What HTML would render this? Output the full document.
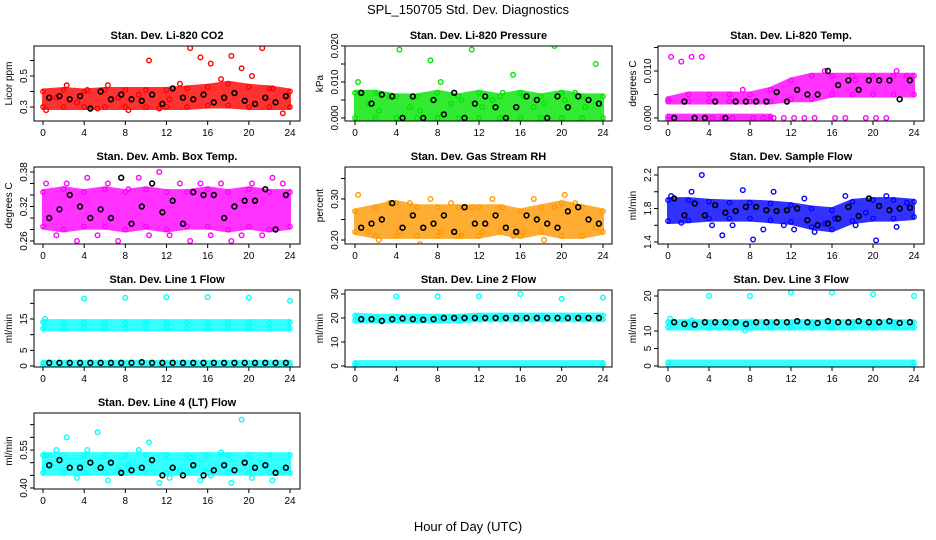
<!DOCTYPE html>
<html><head><meta charset="utf-8"><style>
html,body{margin:0;padding:0;background:#fff;}
svg{display:block;font-family:"Liberation Sans",Arial,sans-serif;}
</style></head><body>
<svg id="chart" width="936" height="540" viewBox="0 0 936 540">
<rect x="0" y="0" width="936" height="540" fill="#fff"/>
<text x="468" y="14" text-anchor="middle" font-size="13">SPL_150705  Std. Dev. Diagnostics</text>
<text x="468" y="531" text-anchor="middle" font-size="13">Hour of Day (UTC)</text>
</svg>
<script>
// shared hour arrays
const bandHours = [0,2,4,6,8,10,12,14,16,18,20,22,24];
const blkHours = [0.6,1.6,2.6,3.6,4.6,5.6,6.6,7.6,8.6,9.6,10.6,11.6,12.6,13.6,14.6,15.6,16.6,17.6,18.6,19.6,20.6,21.6,22.6,23.6];
const colHours = [0.3,1.3,2.3,3.3,4.3,5.3,6.3,7.3,8.3,9.3,10.3,11.3,12.3,13.3,14.3,15.3,16.3,17.3,18.3,19.3,20.3,21.3,22.3,23.3];
const xTicks = [0,4,8,12,16,20,24];

// P1 CO2
const co2Lo = [0.30,0.30,0.30,0.30,0.30,0.30,0.30,0.30,0.31,0.31,0.30,0.30,0.30];
const co2Hi = [0.40,0.41,0.40,0.41,0.41,0.41,0.41,0.42,0.43,0.45,0.43,0.42,0.40];
const co2Col = [0.28,0.36,0.44,0.33,0.41,0.29,0.44,0.36,0.28,0.38,0.60,0.29,0.35,0.45,0.68,0.62,0.58,0.48,0.63,0.55,0.50,0.68,0.42,0.26];
const co2Blk = [0.36,0.37,0.35,0.37,0.29,0.40,0.35,0.38,0.35,0.34,0.38,0.32,0.42,0.36,0.35,0.38,0.33,0.36,0.39,0.34,0.32,0.36,0.33,0.37];
// P2 Pressure
const presLo = [0,0,0,0,0,0,0,0,0,0,0,0,0];
const presHi = [0.007,0.007,0.006,0.006,0.007,0.006,0.007,0.006,0.007,0.006,0.007,0.006,0.006];
const presCol = [0.010,0.004,0.002,0.006,0.019,0.003,0.002,0.016,0.010,0.004,0.005,0.019,0.003,0.005,0.007,0.012,0.006,0.003,0.004,0.020,0.005,0.007,0.003,0.015];
const presBlk = [0.007,0.004,0.0065,0.006,0.000,0.006,0.000,0.005,0.001,0.007,0.000,0.004,0.006,0.003,0.000,0.003,0.006,0.005,0.000,0.006,0.003,0.006,0.005,0.004];
// P3 Li-820 Temp
const ltLo = [0.0035,0.0035,0.0035,0.0035,0.0035,0.0035,0.004,0.004,0.005,0.005,0.005,0.005,0.005];
const ltHi = [0.004,0.005,0.005,0.005,0.005,0.006,0.008,0.009,0.009,0.009,0.009,0.009,0.009];
const ltZeroHours = [0,10];
const ltZeroLo = [-0.0003,-0.0003];
const ltZeroHi = [0.0003,0.0003];
const ltCol = [0.013,0.012,0.013,0.013,0.000,0.000,0.000,0.006,0.000,0.000,0.000,0.000,0.000,0.000,0.000,0.010,0.000,0.000,0.008,0.000,0.000,0.000,0.010,0.009];
const ltBlk = [0.000,0.0035,0.000,0.000,0.0035,0.000,0.0035,0.0035,0.0035,0.0035,0.0055,0.0035,0.006,0.005,0.005,0.010,0.007,0.008,0.006,0.008,0.008,0.008,0.004,0.008];
// P4 Amb box temp
const abLo = [0.285,0.28,0.285,0.285,0.28,0.285,0.28,0.285,0.285,0.28,0.285,0.28,0.285];
const abHi = [0.345,0.35,0.345,0.35,0.345,0.35,0.345,0.345,0.35,0.345,0.35,0.345,0.345];
const abCol = [0.36,0.27,0.36,0.26,0.37,0.27,0.36,0.26,0.35,0.37,0.27,0.38,0.27,0.36,0.26,0.36,0.27,0.36,0.26,0.27,0.36,0.27,0.37,0.36];
const abBlk = [0.30,0.315,0.34,0.32,0.30,0.315,0.30,0.37,0.29,0.32,0.36,0.31,0.33,0.29,0.345,0.34,0.34,0.30,0.32,0.33,0.33,0.35,0.28,0.34];
// P5 RH
const rhLo = [0.22,0.21,0.21,0.21,0.21,0.21,0.21,0.22,0.21,0.22,0.21,0.21,0.22];
const rhHi = [0.27,0.28,0.29,0.28,0.28,0.28,0.28,0.28,0.27,0.28,0.29,0.28,0.27];
const rhCol = [0.31,0.22,0.20,0.29,0.22,0.29,0.19,0.30,0.22,0.29,0.21,0.28,0.22,0.30,0.28,0.21,0.22,0.30,0.20,0.28,0.31,0.29,0.39,0.23];
const rhBlk = [0.23,0.24,0.25,0.29,0.23,0.26,0.23,0.24,0.26,0.22,0.28,0.24,0.24,0.26,0.23,0.22,0.26,0.25,0.24,0.23,0.27,0.28,0.25,0.24];
// P6 Sample flow
const sfLo = [1.65,1.66,1.68,1.68,1.68,1.66,1.64,1.58,1.55,1.65,1.68,1.68,1.70];
const sfHi = [1.90,1.90,1.88,1.87,1.87,1.86,1.84,1.80,1.78,1.88,1.90,1.90,1.88];
const sfCol = [1.95,1.63,2.0,2.2,1.6,1.48,1.6,2.02,1.43,1.55,2.0,1.6,1.55,1.92,1.52,1.62,1.68,1.95,1.6,1.75,1.42,1.95,1.58,1.87];
const sfBlk = [1.92,1.72,1.86,1.72,1.84,1.75,1.77,1.82,1.82,1.78,1.77,1.78,1.80,1.66,1.60,1.62,1.68,1.82,1.71,1.92,1.83,1.78,1.80,1.81];
// P7 Line 1
const l1Lo = [12,12,12,12,12,12,12,12,12,12,12,12,12];
const l1Hi = [14,14,14,14,14,14,14,14,14,14,14,14,14];
const zeroRowHours = [0,24];
const l1ZeroLo = [0,0];
const l1ZeroHi = [1,1];
const l1OutHours = [0.2,4,8,12,16,20,24];
const l1Out = [15,21.5,21.8,22,22,21.8,20.8];
const l1Blk = [1,1,1,1,1,1,1,1,1,1.2,1,1,1,1,1,1,1,1,1,1,1,1,1,1];
// P8 Line 2
const l2Lo = [19,19,19,19,19,19,19.5,19.5,19.5,19.5,19.5,19.5,19.5];
const l2Hi = [21,20.5,20.5,20.5,20.5,20.5,21,21,21,21,21,21,21];
const l2ZeroLo = [0,0];
const l2ZeroHi = [1.2,1.2];
const l2OutHours = [4,8,12,16,20,24];
const l2Out = [29,29,29,30,28,28.5];
const l2Blk = [19.5,19.5,18.8,19.5,19.8,19.5,19.3,19.5,20,20,20,20,20,20,20,20,20,20,20,20,20,20,20,20];
// P9 Line 3
const l3Lo = [11,11,11,11,11,11,11,11,11,11,11,11,11];
const l3Hi = [12.5,12.5,12.5,12.5,12.5,12.5,12.5,12.5,12.5,12.5,12.5,12.5,12.5];
const l3ZeroLo = [0,0];
const l3ZeroHi = [1,1];
const l3OutHours = [0.2,2.3,4,7.5,8,12,16,20,24];
const l3Out = [13.5,13,20,10.2,20,21,21,20.5,20];
const l3Blk = [12.5,12,11.8,12.5,12.5,12.5,12.5,12,12.5,12.5,12.5,12.5,12.8,12.5,12.3,12.8,12.5,12.5,12.8,12.5,12.5,12.8,12.3,12.5];
// P10 Line 4
const l4Lo = [0.46,0.46,0.46,0.46,0.46,0.46,0.46,0.46,0.46,0.46,0.46,0.46,0.46];
const l4Hi = [0.53,0.53,0.53,0.53,0.53,0.53,0.53,0.53,0.53,0.53,0.53,0.53,0.53];
const l4Col = [0.53,0.55,0.60,0.44,0.55,0.62,0.43,0.47,0.49,0.55,0.58,0.42,0.44,0.47,0.52,0.43,0.45,0.54,0.42,0.67,0.44,0.50,0.43,0.47];
const l4Blk = [0.49,0.51,0.48,0.48,0.50,0.48,0.50,0.46,0.47,0.48,0.51,0.45,0.48,0.45,0.49,0.45,0.47,0.49,0.47,0.50,0.48,0.49,0.46,0.48];

const NS = 'http://www.w3.org/2000/svg';
const svg = document.getElementById('chart');
function mk(tag, attrs, parent){
  const e = document.createElementNS(NS, tag);
  for (const k in attrs) e.setAttribute(k, attrs[k]);
  (parent||svg).appendChild(e);
  return e;
}
const cols = [{bx0:34,bx1:300,h0:43,h24:290},{bx0:345,bx1:612,h0:355,h24:603},{bx0:658,bx1:924,h0:668,h24:914}];
const rows = [{by0:46,by1:121},{by0:167,by1:244},{by0:290,by1:367},{by0:413,by1:489}];

const panels = [
 {name:'co2',title:'Stan. Dev. Li-820 CO2',ylab:'Licor ppm',c:0,r:0,color:'#ff0000',va:0.3,ya:107,vb:0.5,yb:76,
  yt:[0.3,0.4,0.5,0.6],yl:['0.3','','0.5',''],bands:[[bandHours,co2Lo,co2Hi]],col:[colHours,co2Col],blk:co2Blk},
 {name:'pressure',title:'Stan. Dev. Li-820 Pressure',ylab:'kPa',c:1,r:0,color:'#00e600',va:0,ya:118,vb:0.02,yb:46,
  yt:[0,0.005,0.01,0.015,0.02],yl:['0.000','','0.010','','0.020'],bands:[[bandHours,presLo,presHi]],col:[colHours,presCol],blk:presBlk},
 {name:'li820-temp',title:'Stan. Dev. Li-820 Temp.',ylab:'degrees C',c:2,r:0,color:'#ff00ff',va:0,ya:118,vb:0.01,yb:71,
  yt:[0,0.005,0.01,0.015],yl:['0.000','','0.010',''],bands:[[bandHours,ltLo,ltHi],[ltZeroHours,ltZeroLo,ltZeroHi]],col:[colHours,ltCol],blk:ltBlk},
 {name:'amb-box-temp',title:'Stan. Dev. Amb. Box Temp.',ylab:'degrees C',c:0,r:1,color:'#ff00ff',va:0.26,ya:241,vb:0.38,yb:172,
  yt:[0.26,0.28,0.30,0.32,0.34,0.36,0.38],yl:['0.26','','','0.32','','','0.38'],bands:[[bandHours,abLo,abHi]],col:[colHours,abCol],blk:abBlk},
 {name:'gas-rh',title:'Stan. Dev. Gas Stream RH',ylab:'percent',c:1,r:1,color:'#ff9900',va:0.2,ya:240,vb:0.3,yb:199,
  yt:[0.2,0.25,0.3,0.35],yl:['0.20','','0.30',''],bands:[[bandHours,rhLo,rhHi]],col:[colHours,rhCol],blk:rhBlk},
 {name:'sample-flow',title:'Stan. Dev. Sample Flow',ylab:'ml/min',c:2,r:1,color:'#0000ff',va:1.4,ya:242,vb:2.2,yb:175,
  yt:[1.4,1.6,1.8,2.0,2.2],yl:['1.4','','1.8','','2.2'],bands:[[bandHours,sfLo,sfHi]],col:[colHours,sfCol],blk:sfBlk},
 {name:'line1-flow',title:'Stan. Dev. Line 1 Flow',ylab:'ml/min',c:0,r:2,color:'#00ffff',va:0,ya:366,vb:15,yb:319,
  yt:[0,5,10,15,20],yl:['0','5','','15',''],bands:[[bandHours,l1Lo,l1Hi],[zeroRowHours,l1ZeroLo,l1ZeroHi]],col:[l1OutHours,l1Out],blk:l1Blk},
 {name:'line2-flow',title:'Stan. Dev. Line 2 Flow',ylab:'ml/min',c:1,r:2,color:'#00ffff',va:0,ya:366,vb:30,yb:294,
  yt:[0,10,20,30],yl:['0','10','20','30'],bands:[[bandHours,l2Lo,l2Hi],[zeroRowHours,l2ZeroLo,l2ZeroHi]],col:[l2OutHours,l2Out],blk:l2Blk},
 {name:'line3-flow',title:'Stan. Dev. Line 3 Flow',ylab:'ml/min',c:2,r:2,color:'#00ffff',va:0,ya:366,vb:20,yb:296,
  yt:[0,5,10,15,20],yl:['0','5','10','','20'],bands:[[bandHours,l3Lo,l3Hi],[zeroRowHours,l3ZeroLo,l3ZeroHi]],col:[l3OutHours,l3Out],blk:l3Blk},
 {name:'line4-flow',title:'Stan. Dev. Line 4 (LT) Flow',ylab:'ml/min',c:0,r:3,color:'#00ffff',va:0.40,ya:488,vb:0.55,yb:450,
  yt:[0.40,0.45,0.50,0.55,0.60,0.65],yl:['0.40','','','0.55','',''],bands:[[bandHours,l4Lo,l4Hi]],col:[colHours,l4Col],blk:l4Blk}
];

panels.forEach(p=>{
  const C = cols[p.c], R = rows[p.r];
  const xs = h => C.h0 + h*(C.h24-C.h0)/24;
  const ys = v => p.ya + (v-p.va)*(p.yb-p.ya)/(p.vb-p.va);
  const g = mk('g',{});
  
  
  const clipId = 'clip-'+p.name;
  const cp = mk('clipPath',{id:clipId}, g);
  mk('rect',{x:C.bx0,y:R.by0,width:C.bx1-C.bx0,height:R.by1-R.by0},cp);
  const plot = mk('g',{'clip-path':'url(#'+clipId+')'}, g);
  p.bands.forEach((b,bi)=>{
    const [hh,lo,hi] = b;
    let d = '';
    hh.forEach((h,i)=>{ d += (i?'L':'M')+xs(h).toFixed(1)+','+(ys(hi[i])-2).toFixed(1); });
    for (let i=hh.length-1;i>=0;i--) d += 'L'+xs(hh[i]).toFixed(1)+','+(ys(lo[i])+2).toFixed(1);
    const path = mk('path',{d:d+'Z',fill:p.color,stroke:p.color,'stroke-width':2,opacity:0.8},plot);
    
    
    hh.forEach((h,i)=>{
      [lo[i],hi[i]].forEach(v=>{
        const c = mk('circle',{cx:xs(h),cy:ys(v),r:2.2,fill:'none',stroke:p.color,'stroke-width':1.3},plot);
        
        
      });
    });
  });
  const [ch, cv] = p.col;
  ch.forEach((h,i)=>{
    const c = mk('circle',{cx:xs(h),cy:ys(cv[i]),r:2.3,fill:'none',stroke:p.color,'stroke-width':1.4},plot);
    
    
  });
  blkHours.forEach((h,i)=>{
    const c = mk('circle',{cx:xs(h),cy:ys(p.blk[i]),r:2.4,fill:'none',stroke:'#000','stroke-width':1.6},plot);
    
    
  });
  const box = mk('rect',{x:C.bx0,y:R.by0,width:C.bx1-C.bx0,height:R.by1-R.by0,fill:'none',stroke:'#000','stroke-width':1},g);
  
  
  const t = mk('text',{x:(C.bx0+C.bx1)/2,y:R.by0-7,'text-anchor':'middle','font-size':11,'font-weight':'bold'},g);
  t.textContent = p.title;
  
  
  const xa = mk('g',{},g);
  
  
  mk('line',{x1:xs(0),x2:xs(24),y1:R.by1,y2:R.by1,stroke:'#000'},xa);
  xTicks.forEach(v=>{
    mk('line',{x1:xs(v),x2:xs(v),y1:R.by1,y2:R.by1+4,stroke:'#000'},xa);
    const tl = mk('text',{x:xs(v),y:R.by1+15,'text-anchor':'middle','font-size':10},xa);
    tl.textContent = v;
    
    
  });
  const ya = mk('g',{},g);
  
  
  mk('line',{x1:C.bx0,x2:C.bx0,y1:ys(p.yt[0]),y2:ys(p.yt[p.yt.length-1]),stroke:'#000'},ya);
  p.yt.forEach((v,i)=>{
    const yy = ys(v);
    mk('line',{x1:C.bx0-4,x2:C.bx0,y1:yy,y2:yy,stroke:'#000'},ya);
    if (p.yl[i]) {
      const tl = mk('text',{x:C.bx0-7,y:yy,'text-anchor':'middle','font-size':10,transform:'rotate(-90 '+(C.bx0-7)+' '+yy+')'},ya);
      tl.textContent = p.yl[i];
      
      
    }
  });
  const yc = (R.by0+R.by1)/2;
  const yt = mk('text',{x:C.bx0-22,y:yc,'text-anchor':'middle','font-size':10,transform:'rotate(-90 '+(C.bx0-22)+' '+yc+')'},g);
  yt.textContent = p.ylab;
  
  
});
</script>
</body></html>
